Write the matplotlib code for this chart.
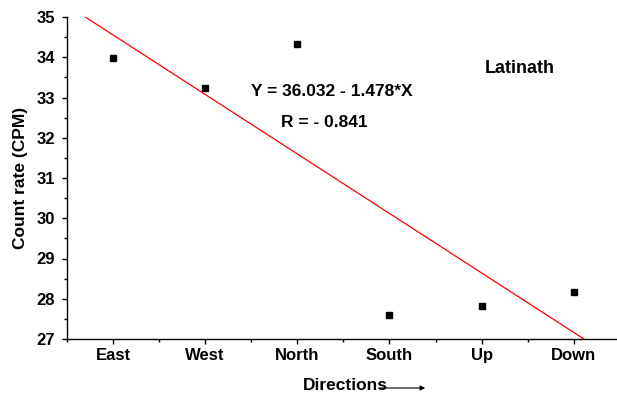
import matplotlib
matplotlib.use("Agg")
import matplotlib.pyplot as plt
import numpy as np
from matplotlib.ticker import MultipleLocator

plt.rcParams['font.family'] = ['Liberation Sans', 'DejaVu Sans']
plt.rcParams['font.weight'] = 'bold'

directions = ["East", "West", "North", "South", "Up", "Down"]
count_rate = [33.97, 33.23, 34.32, 27.60, 27.83, 28.18]
intercept = 36.032
slope = -1.478

fig = plt.figure(figsize=(6.17, 3.96), dpi=100)
ax = fig.add_axes([67/617, 1-339/396, 1-67/617, (339-17)/396])

x = np.arange(1, len(directions) + 1)
ax.plot(x, count_rate, 's', color='black', markersize=5, clip_on=False, zorder=3)
xf = np.array([0.5, 6.5])
ax.plot(xf, intercept + slope * xf, color='red', linewidth=0.9)

ax.set_xlim(0.5, 6.47)
ax.set_ylim(27, 35)
ax.set_xticks(x)
ax.set_xticklabels(directions, fontsize=12, fontweight='bold')
ax.xaxis.set_minor_locator(MultipleLocator(0.5))
ax.yaxis.set_major_locator(MultipleLocator(1))
ax.yaxis.set_minor_locator(MultipleLocator(0.5))
ax.tick_params(axis='both', which='major', direction='out', length=3.6, width=1, labelsize=12)
ax.tick_params(axis='both', which='minor', direction='out', length=2.2, width=1)
ax.tick_params(axis='y', which='major', pad=5)
ax.tick_params(axis='x', which='major', pad=3)
for lab in ax.get_yticklabels():
    lab.set_fontweight('bold')
ax.spines['top'].set_visible(False)
ax.spines['right'].set_visible(False)
ax.spines['left'].set_linewidth(1)
ax.spines['bottom'].set_linewidth(1)

ax.set_ylabel("Count rate (CPM)", fontsize=12.5, fontweight='bold', labelpad=6)

ax.text(3.37, 33.14, "Y = 36.032 - 1.478*X", fontsize=12.5, fontweight='bold', ha='center', va='center')
ax.text(3.29, 32.39, "R = - 0.841", fontsize=12.5, fontweight='bold', ha='center', va='center')
ax.text(5.41, 33.73, "Latinath", fontsize=13, fontweight='bold', ha='center', va='center')

fig.text(345/617, 1-386/396, "Directions", fontsize=12.5, fontweight='bold', ha='center', va='center')
fig.patches.append(matplotlib.patches.FancyArrowPatch((378/617, 1-388/396), (428/617, 1-388/396),
                   transform=fig.transFigure, arrowstyle='-|>', mutation_scale=7, color='black', lw=0.8))

fig.savefig("out.png", dpi=100)
